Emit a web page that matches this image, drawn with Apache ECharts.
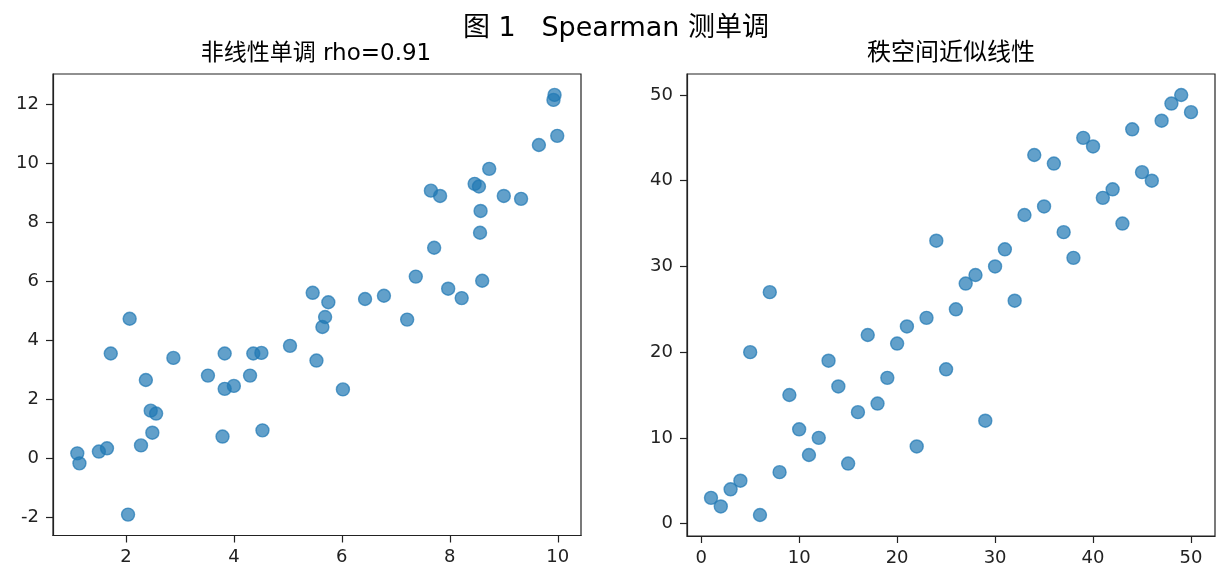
<!DOCTYPE html>
<html>
<head>
<meta charset="utf-8">
<script src="https://cdn.jsdelivr.net/npm/echarts@6/dist/echarts.min.js"></script>
<style>
html,body{margin:0;padding:0;background:#fff;}
#c{width:1230px;height:586px;}
</style>
</head>
<body>
<div id="c"></div>
<script>
// ---- data ----
const mainTitle = '图 1   Spearman 测单调';
const leftTitle = '非线性单调 rho=0.91';
const rightTitle = '秩空间近似线性';

const leftX = [1.10,1.14,1.50,1.65,1.72,2.07,2.04,2.28,2.37,2.46,2.56,2.49,2.88,3.52,3.79,3.83,3.83,4.00,4.30,4.36,4.51,4.53,5.04,5.46,5.53,5.64,5.69,5.75,6.02,6.43,6.78,7.21,7.37,7.65,7.71,7.82,7.97,8.22,8.46,8.54,8.56,8.57,8.60,8.73,9.00,9.32,9.65,9.92,9.94,9.99];
const leftY = [0.16,-0.18,0.22,0.33,3.55,4.73,-1.92,0.43,2.65,1.61,1.51,0.86,3.40,2.80,0.73,3.55,2.35,2.45,2.80,3.55,3.57,0.94,3.81,5.61,3.31,4.45,4.79,5.29,2.33,5.40,5.51,4.70,6.16,9.08,7.14,8.90,5.75,5.43,9.31,9.22,7.65,8.39,6.02,9.82,8.90,8.80,10.63,12.16,12.33,10.94];

const rightX = [1,2,3,4,5,6,7,8,9,10,11,12,13,14,15,16,17,18,19,20,21,22,23,24,25,26,27,28,29,30,31,32,33,34,35,36,37,38,39,40,41,42,43,44,45,46,47,48,49,50];
const rightY = [3,2,4,5,20,1,27,6,15,11,8,10,19,16,7,13,22,14,17,21,23,9,24,33,18,25,28,29,12,30,32,26,36,43,37,42,34,31,45,44,38,39,35,46,41,40,47,49,50,48];

const leftXTicks = [2,4,6,8,10];
const leftYTicks = [-2,0,2,4,6,8,10,12];
const rightXTicks = [0,10,20,30,40,50];
const rightYTicks = [0,10,20,30,40,50];

// ---- chart ----
const FONT = "'DejaVu Sans', 'Noto Sans CJK SC', sans-serif";
const INK = '#222';
const zip = (a, b) => a.map((v, i) => [v, b[i]]);

function axis(gridIndex, min, max, ticks, isY) {
  return {
    type: 'value', gridIndex, min, max,
    axisLine: { show: true, onZero: false, lineStyle: { color: INK, width: 1.2 } },
    axisTick: { show: true, length: 7, lineStyle: { color: INK, width: 1.2 }, customValues: ticks },
    axisLabel: { show: true, customValues: ticks, color: INK, fontSize: 18, fontFamily: FONT, margin: isY ? 14 : 13 },
    splitLine: { show: false }
  };
}

const scatterStyle = {
  color: '#1f77b4', borderColor: '#1f77b4', borderWidth: 1.4, opacity: 0.7
};

const option = {
  animation: false,
  backgroundColor: '#fff',
  grid: [
    { left: 53, top: 74, width: 528, height: 461.5, show: true, borderColor: INK, borderWidth: 1.2, backgroundColor: 'transparent' },
    { left: 687, top: 74, width: 528, height: 462, show: true, borderColor: INK, borderWidth: 1.2, backgroundColor: 'transparent' }
  ],
  xAxis: [
    axis(0, 0.65, 10.43, leftXTicks, false),
    axis(1, -1.45, 52.45, rightXTicks, false)
  ],
  yAxis: [
    axis(0, -2.63, 13.04, leftYTicks, true),
    axis(1, -1.45, 52.45, rightYTicks, true)
  ],
  series: [
    { type: 'scatter', xAxisIndex: 0, yAxisIndex: 0, symbolSize: 13, itemStyle: scatterStyle, data: zip(leftX, leftY) },
    { type: 'scatter', xAxisIndex: 1, yAxisIndex: 1, symbolSize: 13, itemStyle: scatterStyle, data: zip(rightX, rightY) }
  ],
  graphic: [
    { type: 'text', x: 616, y: 29, style: { text: mainTitle, fill: '#000', font: "27px " + FONT, textAlign: 'center', textVerticalAlign: 'middle' } },
    { type: 'text', x: 316, y: 54, style: { text: leftTitle, fill: '#000', font: "23px " + FONT, textAlign: 'center', textVerticalAlign: 'middle' } },
    { type: 'text', x: 951, y: 54, style: { text: rightTitle, fill: '#000', font: "24px " + FONT, textAlign: 'center', textVerticalAlign: 'middle' } }
  ]
};

const chart = echarts.init(document.getElementById('c'), null, { renderer: 'canvas' });
chart.setOption(option);
</script>
</body>
</html>
